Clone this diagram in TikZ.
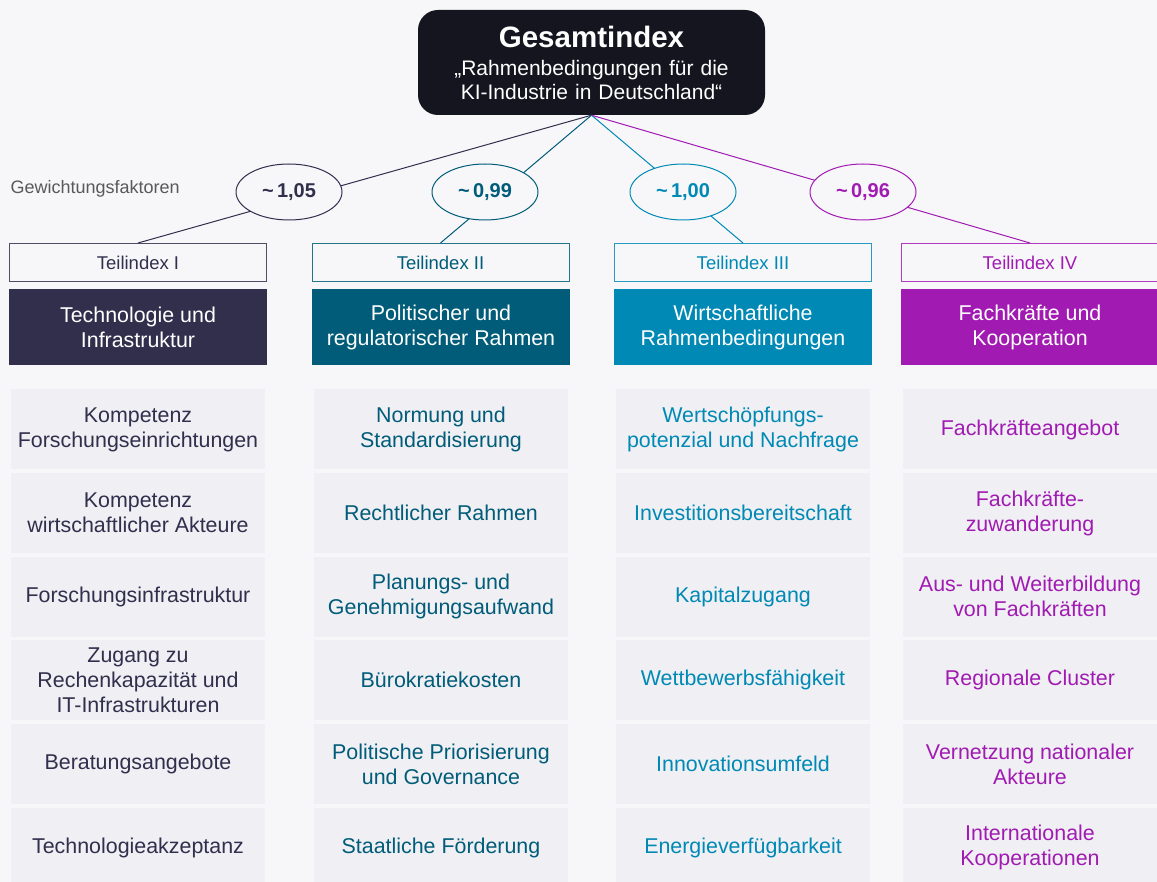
\documentclass[tikz,border=0pt]{standalone}
\usepackage{fontspec}
\setmainfont{Liberation Sans}
\usetikzlibrary{shapes.geometric,positioning}
\definecolor{bgc}{HTML}{F7F7FA}
\definecolor{cellc}{HTML}{EFEFF4}
\definecolor{topc}{HTML}{15151F}
\definecolor{ca}{HTML}{312F4C}
\definecolor{cb}{HTML}{005C78}
\definecolor{cc}{HTML}{0089B4}
\definecolor{cd}{HTML}{A11AB2}
\definecolor{gtext}{HTML}{595959}

\begin{document}
\begin{tikzpicture}[x=1pt,y=-1pt,
    txt/.style={font=\fontsize{21.4}{25}\selectfont,align=center},
    topbox/.style={rounded corners=20pt,fill=topc,text=white,minimum width=347pt,minimum height=105pt,
      text width=340pt,align=center,font=\fontsize{21}{24}\selectfont},
    weight/.style={ellipse,draw=#1,fill=bgc,text=#1,line width=1pt,minimum width=106pt,minimum height=56pt,
      font=\fontsize{20}{24}\selectfont\bfseries},
    index/.style={draw=#1!85!white,fill=bgc,text=#1,line width=1pt,minimum width=257pt,minimum height=38pt,
      font=\fontsize{18.5}{20}\selectfont},
    head/.style={txt,fill=#1,text=white,minimum width=258pt,minimum height=76pt},
    cell/.style={txt,fill=cellc,text=#1,minimum width=254pt,minimum height=80pt},
    link/.style={draw=#1,line width=1pt},
    node distance=3.2pt]

  \fill[bgc] (0,0) rectangle (1157,882);
  \useasboundingbox (0,0) rectangle (1157,882);

  % Gesamtindex
  \node[topbox] (top) at (591.5,62.5) {{\fontsize{29.5}{30}\selectfont\bfseries Gesamtindex\par}\vspace{4pt}
    „Rahmenbedingungen für die\\KI-Industrie in Deutschland“};

  % Teilindizes
  \node[index=ca] (t1) at (138,262.5)  {Teilindex I};
  \node[index=cb] (t2) at (440.5,262.5) {Teilindex II};
  \node[index=cc] (t3) at (743,262.5)  {Teilindex III};
  \node[index=cd] (t4) at (1030,262.5) {Teilindex IV};

  \draw[link=ca] (top.south) -- (t1.north);
  \draw[link=cb] (top.south) -- (t2.north);
  \draw[link=cc] (top.south) -- (t3.north);
  \draw[link=cd] (top.south) -- (t4.north);

  % Gewichtungsfaktoren
  \node[anchor=west,text=gtext,font=\fontsize{18}{20}\selectfont] (gw) at (7,189) {Gewichtungsfaktoren};
  \node[weight=ca] (w1) at (289,192) {\textasciitilde\,1,05};
  \node[weight=cb] (w2) at (485,192) {\textasciitilde\,0,99};
  \node[weight=cc] (w3) at (683,192) {\textasciitilde\,1,00};
  \node[weight=cd] (w4) at (863,192) {\textasciitilde\,0,96};

  \node[head=ca] (h1) at (138,327.5)  {Technologie und\\Infrastruktur};
  \node[head=cb] (h2) at (441,327.5)  {Politischer und\\regulatorischer Rahmen};
  \node[head=cc] (h3) at (743,327.5)  {Wirtschaftliche\\Rahmenbedingungen};
  \node[head=cd] (h4) at (1030,327.5) {Fachkräfte und\\Kooperation};

  % Teilindex I
  \node[cell=ca] (k11) at (138,429.5) {Kompetenz\\Forschungseinrichtungen};
  \node[cell=ca] (k12) [below=of k11] {Kompetenz\\wirtschaftlicher Akteure};
  \node[cell=ca] (k13) [below=of k12] {Forschungsinfrastruktur};
  \node[cell=ca] (k14) [below=of k13] {Zugang zu\\Rechenkapazität und\\IT-Infrastrukturen};
  \node[cell=ca] (k15) [below=of k14] {Beratungsangebote};
  \node[cell=ca] (k16) [below=of k15] {Technologieakzeptanz};

  % Teilindex II
  \node[cell=cb] (k21) at (441,429.5) {Normung und\\Standardisierung};
  \node[cell=cb] (k22) [below=of k21] {Rechtlicher Rahmen};
  \node[cell=cb] (k23) [below=of k22] {Planungs- und\\Genehmigungsaufwand};
  \node[cell=cb] (k24) [below=of k23] {Bürokratiekosten};
  \node[cell=cb] (k25) [below=of k24] {Politische Priorisierung\\und Governance};
  \node[cell=cb] (k26) [below=of k25] {Staatliche Förderung};

  % Teilindex III
  \node[cell=cc] (k31) at (743,429.5) {Wertschöpfungs-\\potenzial und Nachfrage};
  \node[cell=cc] (k32) [below=of k31] {Investitionsbereitschaft};
  \node[cell=cc] (k33) [below=of k32] {Kapitalzugang};
  \node[cell=cc] (k34) [below=of k33] {Wettbewerbsfähigkeit};
  \node[cell=cc] (k35) [below=of k34] {Innovationsumfeld};
  \node[cell=cc] (k36) [below=of k35] {Energieverfügbarkeit};

  % Teilindex IV
  \node[cell=cd] (k41) at (1030,429.5) {Fachkräfteangebot};
  \node[cell=cd] (k42) [below=of k41] {Fachkräfte-\\zuwanderung};
  \node[cell=cd] (k43) [below=of k42] {Aus- und Weiterbildung\\von Fachkräften};
  \node[cell=cd] (k44) [below=of k43] {Regionale Cluster};
  \node[cell=cd] (k45) [below=of k44] {Vernetzung nationaler\\Akteure};
  \node[cell=cd] (k46) [below=of k45] {Internationale\\Kooperationen};
\end{tikzpicture}
\end{document}
